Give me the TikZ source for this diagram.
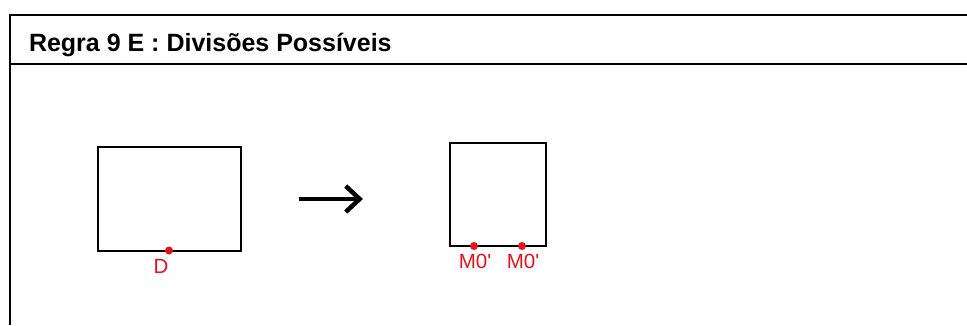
\documentclass[tikz,border=0pt]{standalone}
\usepackage{fontspec}
\setmainfont{Liberation Sans}
\usetikzlibrary{arrows.meta, positioning}
\definecolor{dotred}{HTML}{E8101A}
\tikzset{
	framebox/.style={draw, line width=2pt, inner sep=0pt}
}
\tikzset{
	reddot/.style={fill=dotred, circle, inner sep=0pt, minimum size=8pt}
}
\tikzset{
	redlabel/.style={font=\fontsize{20.5}{20.5}\selectfont\color{dotred}, inner sep=0pt, anchor=north}
}

\begin{document}
\begin{tikzpicture}[x=1pt, y=-1pt]

			\useasboundingbox (0,0) rectangle (967,325);

			% outer frame and header
			\begin{scope}[line width=2pt]
				\draw (967,14.5) -- (9.5,14.5) -- (9.5,325);
				\draw (9.5,64) -- (967,64);
				\node[anchor=base west, inner sep=0pt, font=\fontsize{25}{25}\selectfont\bfseries] (title) at (28,51) {Regra 9 E : Divisões Possíveis};
			\end{scope}

			% before / after
			\begin{scope}
				\node[framebox, minimum width=143pt, minimum height=104pt] (before) at (169.5,199) {};
				\node[framebox, minimum width=96pt, minimum height=103pt] (after) at (498,194.5) {};

				\coordinate (arrA) at (299,199);
				\coordinate (arrB) at (363,199);
				\draw[line width=4pt, -{Straight Barb[length=14pt, width=26pt, line width=4.5pt]}] (arrA) -- (arrB);
			\end{scope}

			% points
			\begin{scope}
				\node[reddot] (d) at (169,250.5) {};
				\node[reddot] (m1) at (474,246) {};
				\node[reddot] (m2) at (522,246) {};

				\node[redlabel] (ld) at (161,259) {D};
				\node[redlabel] (lm1) at (475,254) {M0\textquotesingle};
				\node[redlabel] (lm2) at (523,254) {M0\textquotesingle};
			\end{scope}

		\end{tikzpicture}
\end{document}
